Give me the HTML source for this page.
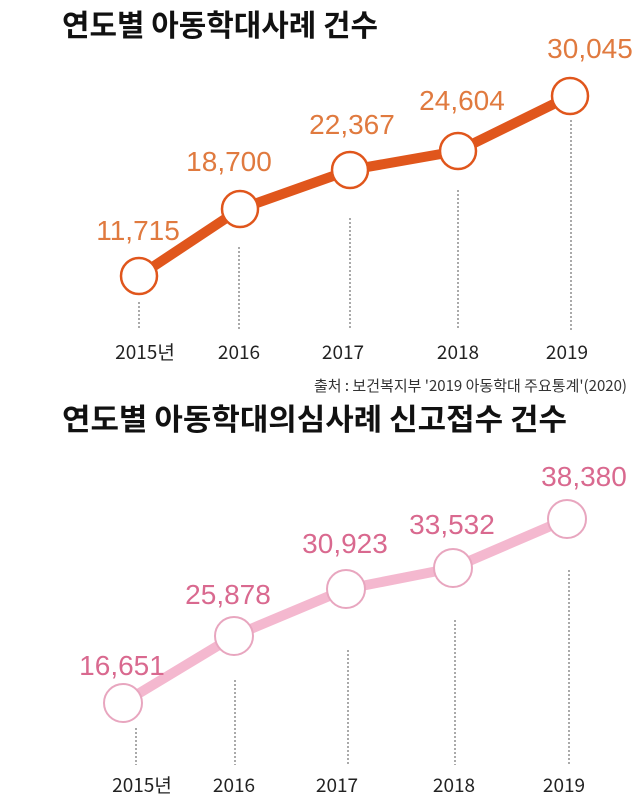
<!DOCTYPE html>
<html><head><meta charset="utf-8"><style>
body{margin:0;background:#fff;}
svg{display:block}
</style></head><body>
<svg width="640" height="800" xmlns="http://www.w3.org/2000/svg" font-family="'Liberation Sans','Noto Sans CJK KR',sans-serif">
<rect width="640" height="800" fill="#fff"/>
<text x="62" y="36" font-size="30" font-weight="bold" fill="#111" font-family="'Noto Sans CJK KR',sans-serif" textLength="316" lengthAdjust="spacingAndGlyphs">연도별 아동학대사례 건수</text>
<g stroke="#555" stroke-width="1" stroke-dasharray="2,2">
<line x1="139" y1="302" x2="139" y2="330"/><line x1="239" y1="247" x2="239" y2="330"/><line x1="350" y1="218" x2="350" y2="330"/><line x1="458" y1="190" x2="458" y2="330"/><line x1="571" y1="120" x2="571" y2="330"/>
</g>
<polyline points="139,276 240,209 350,170 458,151 570,96" fill="none" stroke="#e0561c" stroke-width="10" stroke-linejoin="round"/>
<g fill="#fff" stroke="#e0561c" stroke-width="2.5">
<circle cx="139" cy="276" r="18"/><circle cx="240" cy="209" r="18"/><circle cx="350" cy="170" r="18"/><circle cx="458" cy="151" r="18"/><circle cx="570" cy="96" r="18"/>
</g>
<g fill="#e07a3f" font-size="28" text-anchor="middle">
<text x="138" y="240">11,715</text><text x="229" y="171">18,700</text><text x="352" y="134">22,367</text><text x="462" y="110">24,604</text><text x="590" y="58">30,045</text>
</g>
<g fill="#222" font-size="19" text-anchor="middle" font-family="'Noto Sans CJK KR',sans-serif">
<text x="145" y="359">2015년</text><text x="239" y="359">2016</text><text x="343" y="359">2017</text><text x="458" y="359">2018</text><text x="567" y="359">2019</text>
</g>
<text x="627" y="391" font-size="15" fill="#333" text-anchor="end" font-family="'Noto Sans CJK KR',sans-serif">출처 : 보건복지부 '2019 아동학대 주요통계'(2020)</text>

<text x="62" y="430" font-size="30" font-weight="bold" fill="#111" font-family="'Noto Sans CJK KR',sans-serif" textLength="505" lengthAdjust="spacingAndGlyphs">연도별 아동학대의심사례 신고접수 건수</text>
<g stroke="#555" stroke-width="1" stroke-dasharray="2,2">
<line x1="136" y1="728" x2="136" y2="765"/><line x1="235" y1="680" x2="235" y2="765"/><line x1="348" y1="650" x2="348" y2="765"/><line x1="455" y1="620" x2="455" y2="765"/><line x1="569" y1="570" x2="569" y2="765"/>
</g>
<polyline points="123,703 234,636 346,589 453,568 567,519" fill="none" stroke="#f4b8cf" stroke-width="10" stroke-linejoin="round"/>
<g fill="#fff" stroke="#e8a6bf" stroke-width="2">
<circle cx="123" cy="703" r="19"/><circle cx="234" cy="636" r="19"/><circle cx="346" cy="589" r="19"/><circle cx="453" cy="568" r="19"/><circle cx="567" cy="519" r="19"/>
</g>
<g fill="#d9698f" font-size="28" text-anchor="middle">
<text x="122" y="675">16,651</text><text x="228" y="604">25,878</text><text x="345" y="553">30,923</text><text x="452" y="534">33,532</text><text x="584" y="486">38,380</text>
</g>
<g fill="#222" font-size="19" text-anchor="middle" font-family="'Noto Sans CJK KR',sans-serif">
<text x="142" y="792">2015년</text><text x="234" y="792">2016</text><text x="337" y="792">2017</text><text x="454" y="792">2018</text><text x="564" y="792">2019</text>
</g>
</svg>
</body></html>
